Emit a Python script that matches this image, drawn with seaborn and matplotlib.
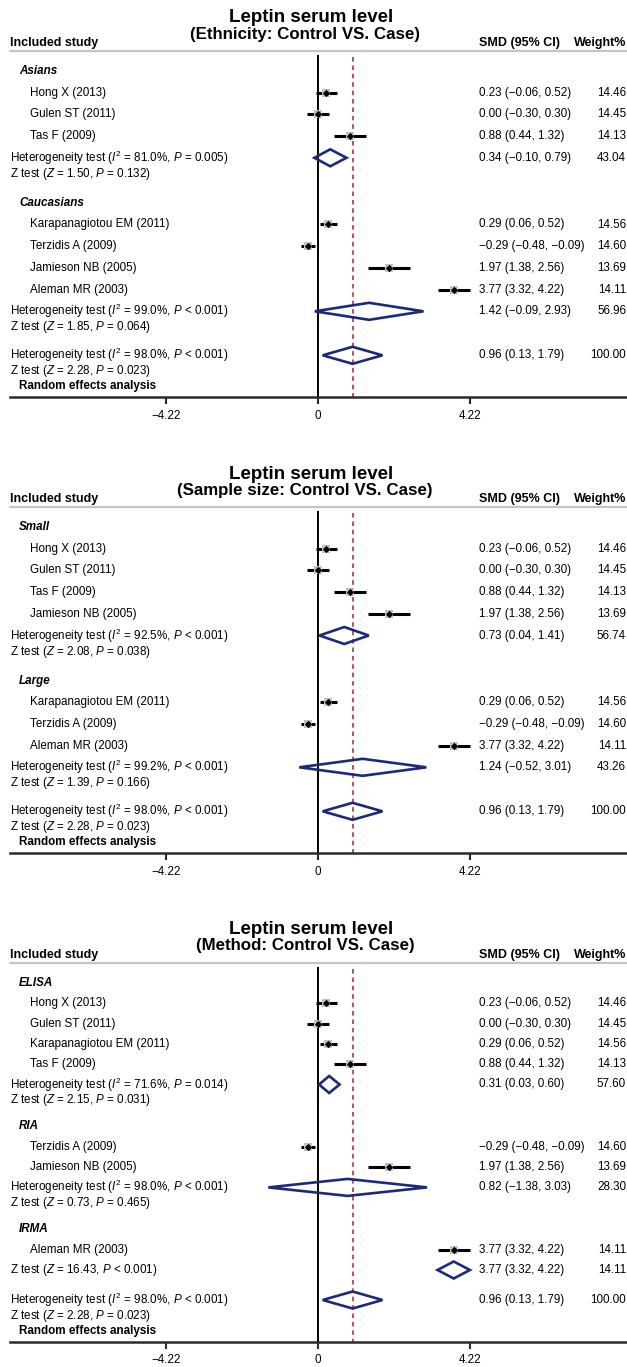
import pandas as pd
import matplotlib.pyplot as plt
import seaborn as sns
from matplotlib.patches import Polygon

# study level results
study_names = ["Hong X (2013)", "Gulen ST (2011)", "Tas F (2009)", "Karapanagiotou EM (2011)",
               "Terzidis A (2009)", "Jamieson NB (2005)", "Aleman MR (2003)"]
study_smd = [0.23, 0.00, 0.88, 0.29, -0.29, 1.97, 3.77]
study_lo = [-0.06, -0.30, 0.44, 0.06, -0.48, 1.38, 3.32]
study_hi = [0.52, 0.30, 1.32, 0.52, -0.09, 2.56, 4.22]
study_weight = [14.46, 14.45, 14.13, 14.56, 14.60, 13.69, 14.11]

# overall (random effects)
overall_smd, overall_lo, overall_hi, overall_weight = 0.96, 0.13, 1.79, 100.00
overall_i2, overall_het_p = "98.0%", "< 0.001"
overall_z, overall_z_p = "2.28", "= 0.023"

# ethnicity
eth_groups = ["Asians", "Caucasians"]
eth_members = [["Hong X (2013)", "Gulen ST (2011)", "Tas F (2009)"],
               ["Karapanagiotou EM (2011)", "Terzidis A (2009)", "Jamieson NB (2005)", "Aleman MR (2003)"]]
eth_smd = [0.34, 1.42]
eth_lo = [-0.10, -0.09]
eth_hi = [0.79, 2.93]
eth_weight = [43.04, 56.96]
eth_i2 = ["81.0%", "99.0%"]
eth_het_p = ["= 0.005", "< 0.001"]
eth_z = ["1.50", "1.85"]
eth_z_p = ["= 0.132", "= 0.064"]

# sample size
size_groups = ["Small", "Large"]
size_members = [["Hong X (2013)", "Gulen ST (2011)", "Tas F (2009)", "Jamieson NB (2005)"],
                ["Karapanagiotou EM (2011)", "Terzidis A (2009)", "Aleman MR (2003)"]]
size_smd = [0.73, 1.24]
size_lo = [0.04, -0.52]
size_hi = [1.41, 3.01]
size_weight = [56.74, 43.26]
size_i2 = ["92.5%", "99.2%"]
size_het_p = ["< 0.001", "< 0.001"]
size_z = ["2.08", "1.39"]
size_z_p = ["= 0.038", "= 0.166"]

# method
meth_groups = ["ELISA", "RIA", "IRMA"]
meth_members = [["Hong X (2013)", "Gulen ST (2011)", "Karapanagiotou EM (2011)", "Tas F (2009)"],
                ["Terzidis A (2009)", "Jamieson NB (2005)"],
                ["Aleman MR (2003)"]]
meth_smd = [0.31, 0.82, 3.77]
meth_lo = [0.03, -1.38, 3.32]
meth_hi = [0.60, 3.03, 4.22]
meth_weight = [57.60, 28.30, 14.11]
meth_i2 = ["71.6%", "98.0%", None]
meth_het_p = ["= 0.014", "< 0.001", None]
meth_z = ["2.15", "0.73", "16.43"]
meth_z_p = ["= 0.031", "= 0.465", "< 0.001"]

main_title = "Leptin serum level"
subtitles = ["(Ethnicity: Control VS. Case)", "(Sample size: Control VS. Case)", "(Method: Control VS. Case)"]
tick_vals = [-4.22, 0, 4.22]
tick_labels = ["\u22124.22", "0", "4.22"]

panels = [
    dict(groups=eth_groups, members=eth_members, smd=eth_smd, lo=eth_lo, hi=eth_hi, w=eth_weight,
         i2=eth_i2, hp=eth_het_p, z=eth_z, zp=eth_z_p, top=0, s=21.7, g=29, g2=28),
    dict(groups=size_groups, members=size_members, smd=size_smd, lo=size_lo, hi=size_hi, w=size_weight,
         i2=size_i2, hp=size_het_p, z=size_z, zp=size_z_p, top=456, s=21.7, g=29, g2=28),
    dict(groups=meth_groups, members=meth_members, smd=meth_smd, lo=meth_lo, hi=meth_hi, w=meth_weight,
         i2=meth_i2, hp=meth_het_p, z=meth_z, zp=meth_z_p, top=912, s=20.3, g=26, g2=30),
]

sns.set_theme(style="white")
plt.rcParams["font.family"] = ["Liberation Sans", "DejaVu Sans"]
plt.rcParams["text.color"] = "black"
plt.rcParams["mathtext.fontset"] = "custom"
plt.rcParams["mathtext.rm"] = "Liberation Sans"
plt.rcParams["mathtext.it"] = "Liberation Sans:italic"
plt.rcParams["mathtext.bf"] = "Liberation Sans:bold"

W, H = 627, 1367
fig = plt.figure(figsize=(W / 100, H / 100), dpi=100)

ZERO_PX = 318
PX_UNIT = 36.0
LEFT_PX = 10
NAVY = "#1c2a7a"
FS = 8.4


def xv(px):
    return (px - ZERO_PX) / PX_UNIT


def fmt(v):
    return f"{v:.2f}".replace("-", "\u2212")


def ci_text(e, l, h):
    return f"{fmt(e)} ({fmt(l)}, {fmt(h)})"


def het_text(i2, p):
    return rf"Heterogeneity test ($I^2$ = {i2}, $P$ {p})"


def z_text(z, p):
    return rf"Z test ($Z$ = {z}, $P$ {p})"


def diamond(ax, y, e, l, h):
    ax.add_patch(Polygon([(l, y), (e, y - 8.5), (h, y), (e, y + 8.5)], closed=True, fill=False,
                         edgecolor=NAVY, lw=1.9, joinstyle="miter", clip_on=False, zorder=4))


def right_cols(ax, y, e, l, h, w):
    ax.text(xv(479), y, ci_text(e, l, h), fontsize=FS, ha="left", va="center")
    ax.text(xv(626), y, f"{w:.2f}", fontsize=FS, ha="right", va="center")


for pi, p in enumerate(panels):
    top = p["top"]
    header_y = top + 51
    s, g = p["s"], p["g"]

    # work out row positions
    rows = []
    y = header_y + 20
    for gi, grp in enumerate(p["groups"]):
        if gi > 0:
            y += g
        rows.append(("group", y, grp))
        for name in p["members"][gi]:
            y += s
            rows.append(("study", y, name))
        y += s
        if p["i2"][gi] is not None:
            rows.append(("het", y, gi))
            y += 16
            rows.append(("z", y, gi))
        else:
            rows.append(("zonly", y, gi))
    y += p["g2"]
    rows.append(("ohet", y, None))
    y += 16
    rows.append(("oz", y, None))
    y += 15
    rows.append(("random", y, None))
    axis_y = y + 11

    ax = fig.add_axes([LEFT_PX / W, 1 - axis_y / H, (W - LEFT_PX) / W, (axis_y - top) / H])
    ax.set_xlim(xv(LEFT_PX), xv(W))
    ax.set_ylim(axis_y, top)
    for sp in ["top", "left", "right"]:
        ax.spines[sp].set_visible(False)
    ax.spines["bottom"].set_linewidth(1.8)
    ax.spines["bottom"].set_color("#2b2b2b")
    ax.set_yticks([])
    ax.set_xticks(tick_vals)
    ax.set_xticklabels(tick_labels)
    ax.tick_params(axis="x", bottom=True, direction="out", length=5, width=1.5, color="#2b2b2b",
                   labelsize=FS, pad=4, labelcolor="black")
    ax.patch.set_alpha(0)

    # titles and header
    ax.text(xv(311), top + 18, main_title, fontsize=13.5, fontweight="bold", ha="center", va="center")
    ax.text(xv(305), top + 34, subtitles[pi], fontsize=12.2, fontweight="bold", ha="center", va="center")
    ax.text(xv(LEFT_PX), top + 43, "Included study", fontsize=9, fontweight="bold", ha="left", va="center")
    ax.text(xv(479), top + 43, "SMD (95% CI)", fontsize=9, fontweight="bold", ha="left", va="center")
    ax.text(xv(626), top + 43, "Weight%", fontsize=9, fontweight="bold", ha="right", va="center")
    ax.plot([xv(LEFT_PX), xv(W)], [header_y, header_y], color="#c4c4c4", lw=1.6, clip_on=False)

    ax.vlines(0, header_y + 4, axis_y, color="black", lw=1.4, zorder=2)
    ax.vlines(overall_smd, header_y + 6, axis_y, color="#a3262b", lw=1.1,
              linestyles=(0, (3, 2.5)), zorder=2)

    pts = []
    for kind, y, val in rows:
        if kind == "group":
            ax.text(xv(19), y, val, fontsize=FS, fontweight="bold", fontstyle="italic", ha="left", va="center")
        elif kind == "study":
            i = study_names.index(val)
            ax.text(xv(30), y, val, fontsize=FS, ha="left", va="center")
            ax.hlines(y, study_lo[i], study_hi[i], color="black", lw=2.2, zorder=3)
            pts.append({"smd": study_smd[i], "y": y})
            right_cols(ax, y, study_smd[i], study_lo[i], study_hi[i], study_weight[i])
        elif kind == "het":
            ax.text(xv(LEFT_PX), y, het_text(p["i2"][val], p["hp"][val]), fontsize=FS, ha="left", va="center")
            diamond(ax, y, p["smd"][val], p["lo"][val], p["hi"][val])
            right_cols(ax, y, p["smd"][val], p["lo"][val], p["hi"][val], p["w"][val])
        elif kind == "z":
            ax.text(xv(LEFT_PX), y, z_text(p["z"][val], p["zp"][val]), fontsize=FS, ha="left", va="center")
        elif kind == "zonly":
            ax.text(xv(LEFT_PX), y, z_text(p["z"][val], p["zp"][val]), fontsize=FS, ha="left", va="center")
            diamond(ax, y, p["smd"][val], p["lo"][val], p["hi"][val])
            right_cols(ax, y, p["smd"][val], p["lo"][val], p["hi"][val], p["w"][val])
        elif kind == "ohet":
            ax.text(xv(LEFT_PX), y, het_text(overall_i2, overall_het_p), fontsize=FS, ha="left", va="center")
            diamond(ax, y, overall_smd, overall_lo, overall_hi)
            right_cols(ax, y, overall_smd, overall_lo, overall_hi, overall_weight)
        elif kind == "oz":
            ax.text(xv(LEFT_PX), y, z_text(overall_z, overall_z_p), fontsize=FS, ha="left", va="center")
        elif kind == "random":
            ax.text(xv(19), y, "Random effects analysis", fontsize=FS, fontweight="bold", ha="left", va="center")

    df = pd.DataFrame(pts)
    sns.scatterplot(data=df, x="smd", y="y", ax=ax, marker="s", s=26, color="#c2c2c2", linewidth=0, zorder=4)
    sns.scatterplot(data=df, x="smd", y="y", ax=ax, marker="D", s=14, color="black", linewidth=0, zorder=5)
    ax.set_xlabel("")
    ax.set_ylabel("")
    ax.set_ylim(axis_y, top)
    ax.set_xlim(xv(LEFT_PX), xv(W))

fig.savefig("out.png", dpi=100)
